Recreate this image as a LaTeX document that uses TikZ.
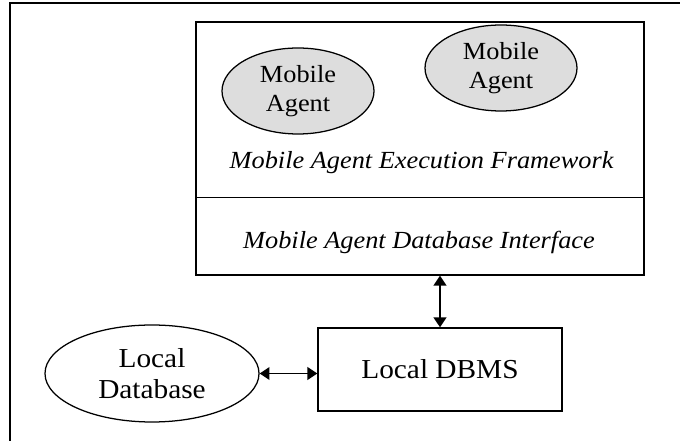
\documentclass[tikz,border=0pt]{standalone}
\usepackage{fontspec}
\setmainfont{Liberation Serif}[FakeStretch=1.07]
\usepackage{tikz}
\usetikzlibrary{shapes.geometric,arrows.meta}
\definecolor{agentgray}{RGB}{221,221,221}
\tikzset{
  txt/.style={font=\fontsize{17.5}{20.5}\selectfont, align=center},
  bigtxt/.style={font=\fontsize{19.5}{22.5}\selectfont, align=center},
  agent/.style={txt, ellipse, draw, line width=0.9pt, fill=agentgray,
    minimum width=3.8cm, minimum height=2.15cm, inner sep=0pt},
  dbase/.style={bigtxt, ellipse, draw, line width=0.9pt,
    minimum width=5.35cm, minimum height=2.425cm, inner sep=0pt},
  layerbox/.style={draw, line width=1pt, inner sep=0pt},
  link/.style={line width=1.2pt, {Triangle[length=7pt,width=9pt]}-{Triangle[length=7pt,width=9pt]}},
}

\begin{document}
\begin{tikzpicture}
        \useasboundingbox (0cm, 0cm) rectangle (17cm, 11.025cm);
        % outer frame, open at right and bottom
        \coordinate (f0) at (0.25cm, 0cm);
        \coordinate (f1) at (0.25cm, 10.95cm);
        \coordinate (f2) at (17cm, 10.95cm);
        \draw [line width=1.2pt] (f0) -- (f1) -- (f2);

        \node (mabox) [layerbox, minimum width=11.2cm, minimum height=6.325cm] at (10.500000cm, 7.312500cm) {};
        \coordinate (d0) at (4.9cm, 6.1cm);
        \coordinate (d1) at (16.1cm, 6.1cm);
        \draw [line width=0.6pt] (d0) -- (d1);

        \node (ag1) [agent] at (7.450000cm, 8.750000cm) {Mobile\\Agent};
        \node (ag2) [agent] at (12.525000cm, 9.325000cm) {Mobile\\Agent};
        \node (maef) [txt] at (10.540000cm, 6.950000cm) {\itshape Mobile Agent Execution Framework};
        \node (madi) [txt] at (10.475000cm, 4.975000cm) {\itshape Mobile Agent Database Interface};

        \node (dbms) [layerbox, bigtxt, minimum width=6.1cm, minimum height=2.075cm] at (11.000000cm, 1.787500cm) {Local DBMS};
        \node (ldb) [dbase] at (3.800000cm, 1.687500cm) {Local\\Database};

        \draw [link] (dbms.north) -- (dbms.north |- mabox.south);
        \draw [link] (ldb.east) -- (ldb.east -| dbms.west);
\end{tikzpicture}
\end{document}
